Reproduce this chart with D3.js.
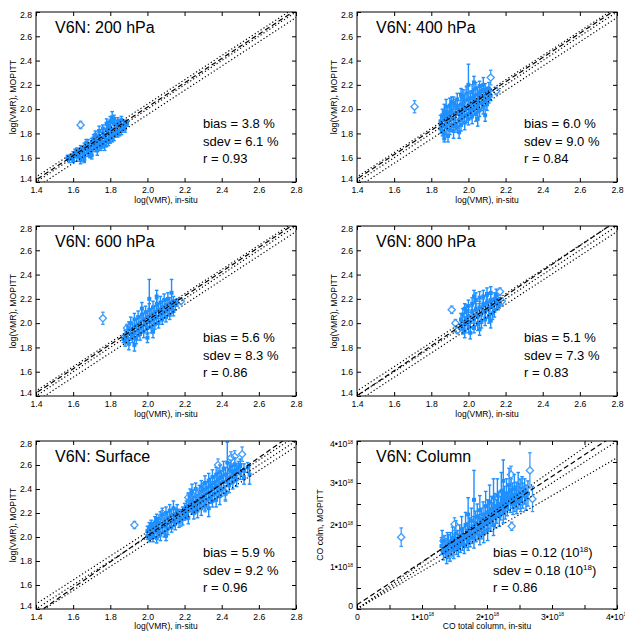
<!DOCTYPE html>
<html><head><meta charset="utf-8">
<script src="https://cdn.jsdelivr.net/npm/d3@7"></script>
<style>body{margin:0;background:#fff} text{font-family:"Liberation Sans",Arial,Helvetica,sans-serif}</style>
</head><body><svg id="c" width="625" height="632"></svg>
<script>
// ---------- data ----------
const titles = ["V6N: 200 hPa","V6N: 400 hPa","V6N: 600 hPa","V6N: 800 hPa","V6N: Surface","V6N: Column"];
const biasVals = ["3.8","6.0","5.6","5.1","5.9","0.12"];
const sdevVals = ["6.1","9.0","8.3","7.3","9.2","0.18"];
const rVals = ["0.93","0.84","0.86","0.83","0.96","0.86"];
const logTicks = [1.4,1.6,1.8,2.0,2.2,2.4,2.6,2.8];
const colTicks = [0,0.5,1,1.5,2,2.5,3,3.5,4];
const colLabelTicks = [0,1,2,3,4];
const fitSlope = [1.0,1.0,1.0,1.03,1.085,1.02];
const fitIntercept = [0.017,0.025,0.024,-0.04,-0.16,0.10];
const refRatio = [1.0,1.1,0.9];

// [in-situ, MOPITT, error]
const pts200 = [[1.57,1.60,0.02],[1.58,1.59,0.03],[1.59,1.61,0.02],[1.60,1.62,0.03],[1.60,1.58,0.02],[1.61,1.64,0.03],[1.62,1.61,0.04],[1.62,1.66,0.02],[1.63,1.63,0.03],[1.64,1.60,0.03],[1.64,1.67,0.03],[1.65,1.65,0.04],[1.66,1.62,0.05],[1.66,1.69,0.03],[1.67,1.67,0.03],[1.68,1.64,0.03],[1.68,1.71,0.04],[1.69,1.69,0.03],[1.70,1.66,0.04],[1.70,1.73,0.03],[1.71,1.70,0.03],[1.72,1.68,0.03],[1.72,1.75,0.04],[1.73,1.72,0.03],[1.74,1.70,0.04],[1.74,1.78,0.05],[1.75,1.74,0.03],[1.76,1.72,0.04],[1.76,1.80,0.04],[1.77,1.77,0.03],[1.78,1.74,0.05],[1.78,1.83,0.04],[1.79,1.79,0.04],[1.80,1.76,0.04],[1.80,1.85,0.04],[1.81,1.81,0.03],[1.82,1.78,0.04],[1.82,1.88,0.05],[1.83,1.84,0.04],[1.83,1.80,0.03],[1.84,1.86,0.04],[1.84,1.90,0.03],[1.85,1.82,0.04],[1.85,1.88,0.03],[1.86,1.85,0.03],[1.86,1.91,0.03],[1.87,1.87,0.03],[1.88,1.89,0.02],[1.88,1.84,0.03],[1.89,1.88,0.02],[1.81,1.93,0.05],[1.79,1.86,0.04],[1.77,1.70,0.04],[1.75,1.69,0.03],[1.73,1.66,0.04],[1.69,1.63,0.03],[1.67,1.72,0.03],[1.64,1.58,0.03],[1.71,1.76,0.03],[1.74,1.82,0.04],[1.76,1.84,0.03],[1.78,1.88,0.04],[1.80,1.90,0.04],[1.82,1.92,0.03],[1.79,1.73,0.03],[1.81,1.76,0.03],[1.84,1.80,0.03],[1.86,1.82,0.03],[1.72,1.79,0.03],[1.70,1.62,0.03],[1.66,1.59,0.03]];
const dia200 = [[1.64,1.87,0.03]];

const pts400 = [[1.85,1.84,0.04],[1.85,1.90,0.05],[1.86,1.87,0.06],[1.86,1.95,0.05],[1.87,1.80,0.05],[1.87,1.91,0.05],[1.87,1.98,0.06],[1.88,1.85,0.06],[1.88,1.94,0.05],[1.88,2.02,0.06],[1.89,1.78,0.05],[1.89,1.89,0.06],[1.89,1.97,0.05],[1.90,1.83,0.04],[1.90,1.93,0.05],[1.90,2.03,0.06],[1.91,1.87,0.05],[1.91,1.99,0.06],[1.92,1.82,0.06],[1.92,1.92,0.05],[1.92,2.05,0.05],[1.93,1.88,0.05],[1.93,1.97,0.06],[1.94,1.85,0.04],[1.94,2.01,0.06],[1.94,2.08,0.05],[1.95,1.91,0.05],[1.95,1.98,0.06],[1.96,1.87,0.05],[1.96,2.04,0.06],[1.97,1.93,0.05],[1.97,2.10,0.06],[1.98,1.89,0.06],[1.98,2.00,0.05],[1.98,2.07,0.05],[1.99,1.95,0.06],[1.99,2.13,0.06],[2.00,1.92,0.05],[2.00,2.03,0.06],[2.00,2.20,0.17],[2.01,1.97,0.05],[2.01,2.09,0.06],[2.02,1.94,0.06],[2.02,2.05,0.05],[2.02,2.14,0.06],[2.03,2.00,0.05],[2.03,2.11,0.05],[2.04,1.96,0.06],[2.04,2.07,0.05],[2.04,2.17,0.05],[2.05,2.02,0.05],[2.05,2.12,0.06],[2.06,1.99,0.05],[2.06,2.09,0.05],[2.07,2.05,0.06],[2.07,2.15,0.05],[2.08,2.02,0.06],[2.08,2.11,0.06],[2.09,2.07,0.05],[2.09,1.95,0.05],[2.10,2.13,0.05],[2.10,2.04,0.05],[2.11,2.09,0.04],[2.11,2.17,0.05],[2.12,2.11,0.04],[2.08,2.20,0.06],[2.06,2.19,0.04],[2.03,2.22,0.05],[1.96,2.12,0.05],[1.91,2.06,0.04],[2.05,1.92,0.06],[1.95,1.81,0.05],[1.87,1.76,0.03],[1.86,1.82,0.04],[1.88,1.90,0.04],[1.90,1.97,0.05],[1.93,2.03,0.05],[1.97,2.02,0.05],[2.00,2.08,0.05],[2.03,2.05,0.05],[2.06,2.13,0.05],[2.09,2.16,0.05],[1.92,1.86,0.05],[1.96,1.95,0.05],[2.01,2.00,0.05],[2.05,2.07,0.05]];
const dia400 = [[1.71,2.02,0.05],[2.12,2.26,0.06],[2.15,2.15,0.03],[1.99,2.14,0.04]];

const pts600 = [[1.87,1.87,0.03],[1.88,1.90,0.04],[1.88,1.85,0.04],[1.89,1.93,0.05],[1.89,1.88,0.05],[1.90,1.83,0.05],[1.90,1.96,0.05],[1.91,1.91,0.05],[1.91,2.00,0.05],[1.92,1.88,0.04],[1.92,1.95,0.05],[1.93,2.03,0.05],[1.93,1.92,0.05],[1.94,1.98,0.05],[1.94,1.87,0.04],[1.95,2.05,0.05],[1.95,1.94,0.05],[1.96,2.00,0.05],[1.96,1.91,0.05],[1.97,2.07,0.05],[1.97,1.97,0.05],[1.98,2.03,0.05],[1.98,1.93,0.05],[1.99,2.09,0.05],[1.99,1.99,0.05],[2.00,2.05,0.05],[2.00,1.96,0.05],[2.01,2.11,0.05],[2.01,2.20,0.16],[2.01,2.01,0.05],[2.02,2.07,0.05],[2.02,1.97,0.05],[2.03,2.13,0.05],[2.03,2.03,0.05],[2.04,2.09,0.05],[2.04,1.99,0.04],[2.05,2.15,0.05],[2.05,2.05,0.05],[2.06,2.11,0.05],[2.06,2.00,0.04],[2.07,2.17,0.05],[2.07,2.07,0.05],[2.08,2.13,0.05],[2.08,2.03,0.04],[2.09,2.19,0.05],[2.09,2.09,0.05],[2.10,2.15,0.05],[2.10,2.05,0.04],[2.11,2.20,0.05],[2.11,2.11,0.05],[2.12,2.16,0.05],[2.12,2.07,0.04],[2.13,2.25,0.11],[2.13,2.13,0.05],[2.14,2.18,0.04],[2.14,2.10,0.04],[2.15,2.15,0.04],[2.16,2.17,0.03],[2.00,1.88,0.04],[1.97,2.12,0.05],[2.05,2.22,0.05],[1.93,1.82,0.05],[2.03,1.93,0.05]];
const dia600 = [[1.76,2.04,0.05],[2.18,2.18,0.02],[1.89,1.96,0.03]];

const pts800 = [[1.96,1.98,0.04],[1.96,2.03,0.05],[1.97,1.95,0.04],[1.97,2.07,0.05],[1.98,2.00,0.05],[1.98,1.93,0.05],[1.99,2.04,0.05],[1.99,2.10,0.05],[2.00,1.97,0.05],[2.00,2.06,0.05],[2.00,2.14,0.05],[2.01,2.01,0.05],[2.01,1.92,0.05],[2.02,2.09,0.05],[2.02,2.16,0.05],[2.03,2.03,0.05],[2.03,1.96,0.04],[2.04,2.11,0.05],[2.04,2.19,0.06],[2.05,2.06,0.05],[2.05,1.99,0.05],[2.06,2.13,0.05],[2.06,2.21,0.05],[2.07,2.08,0.05],[2.07,2.01,0.05],[2.08,2.15,0.05],[2.08,2.22,0.05],[2.09,2.10,0.05],[2.09,2.03,0.05],[2.10,2.17,0.05],[2.10,2.24,0.05],[2.11,2.12,0.05],[2.11,2.05,0.05],[2.12,2.19,0.05],[2.12,2.25,0.05],[2.13,2.14,0.05],[2.13,2.08,0.05],[2.14,2.20,0.05],[2.14,2.10,0.05],[2.15,2.16,0.04],[2.15,2.23,0.05],[2.16,2.14,0.03],[2.16,2.19,0.04],[2.17,2.17,0.03],[2.12,2.02,0.06],[2.06,1.95,0.05],[1.98,2.12,0.04],[2.03,2.22,0.05]];
const dia800 = [[1.91,2.11,0.03],[1.93,2.00,0.03],[1.94,1.94,0.02],[2.17,2.26,0.03],[2.18,2.18,0.03]];

const ptsSurf = [[2.00,2.01,0.03],[2.00,2.05,0.04],[2.01,1.99,0.03],[2.01,2.08,0.04],[2.02,2.03,0.05],[2.02,2.10,0.04],[2.03,2.00,0.04],[2.03,2.07,0.05],[2.04,2.12,0.05],[2.04,2.04,0.05],[2.05,1.99,0.04],[2.05,2.09,0.05],[2.05,2.15,0.04],[2.06,2.05,0.05],[2.06,2.12,0.04],[2.07,2.02,0.05],[2.07,2.16,0.05],[2.08,2.09,0.05],[2.08,2.19,0.05],[2.09,2.04,0.04],[2.09,2.13,0.05],[2.10,2.10,0.05],[2.10,2.20,0.05],[2.10,2.01,0.04],[2.11,2.16,0.05],[2.11,2.07,0.05],[2.12,2.12,0.05],[2.12,2.22,0.05],[2.13,2.08,0.04],[2.13,2.18,0.05],[2.14,2.14,0.05],[2.14,2.24,0.06],[2.15,2.11,0.05],[2.15,2.19,0.05],[2.16,2.16,0.04],[2.16,2.22,0.05],[2.17,2.13,0.05],[2.18,2.19,0.04],[2.18,2.16,0.04],[2.19,2.21,0.04],[2.19,2.15,0.05],[2.20,2.23,0.05],[2.20,2.18,0.04],[2.21,2.25,0.05],[2.21,2.20,0.05],[2.22,2.30,0.06],[2.22,2.22,0.05],[2.22,2.16,0.05],[2.23,2.35,0.05],[2.23,2.27,0.06],[2.24,2.24,0.05],[2.24,2.38,0.06],[2.24,2.31,0.05],[2.25,2.28,0.06],[2.25,2.20,0.05],[2.26,2.34,0.06],[2.26,2.40,0.05],[2.26,2.25,0.05],[2.27,2.30,0.05],[2.27,2.22,0.06],[2.28,2.37,0.06],[2.28,2.28,0.05],[2.29,2.42,0.05],[2.29,2.33,0.06],[2.29,2.24,0.06],[2.30,2.39,0.06],[2.30,2.30,0.05],[2.31,2.45,0.06],[2.31,2.35,0.05],[2.31,2.27,0.05],[2.32,2.41,0.05],[2.32,2.31,0.06],[2.33,2.47,0.06],[2.33,2.37,0.05],[2.33,2.24,0.07],[2.34,2.43,0.06],[2.34,2.33,0.05],[2.35,2.50,0.06],[2.35,2.40,0.06],[2.35,2.30,0.05],[2.36,2.45,0.05],[2.36,2.36,0.06],[2.37,2.52,0.06],[2.37,2.42,0.05],[2.37,2.31,0.06],[2.38,2.48,0.06],[2.38,2.38,0.05],[2.39,2.54,0.06],[2.39,2.44,0.06],[2.39,2.34,0.07],[2.40,2.50,0.05],[2.40,2.40,0.06],[2.41,2.57,0.06],[2.41,2.46,0.06],[2.42,2.52,0.06],[2.42,2.36,0.06],[2.43,2.62,0.17],[2.43,2.48,0.05],[2.44,2.56,0.06],[2.44,2.43,0.06],[2.45,2.59,0.05],[2.45,2.50,0.06],[2.46,2.54,0.05],[2.46,2.46,0.06],[2.47,2.60,0.06],[2.47,2.51,0.05],[2.48,2.56,0.05],[2.48,2.48,0.06],[2.49,2.58,0.05],[2.50,2.53,0.05],[2.50,2.60,0.05],[2.52,2.56,0.05],[2.52,2.49,0.05],[2.54,2.58,0.04],[2.55,2.52,0.08]];
const diaSurf = [[1.93,2.10,0.03],[2.51,2.69,0.06],[2.47,2.67,0.05],[2.45,2.66,0.05],[2.42,2.37,0.06],[2.31,2.26,0.05],[2.22,2.33,0.04],[2.18,2.15,0.06],[2.08,2.18,0.04],[2.06,2.04,0.03],[2.38,2.60,0.05],[2.27,2.36,0.04]];

// column values in units of 1e18
const ptsCol = [[1.30,1.50,0.20],[1.31,1.62,0.25],[1.33,1.35,0.18],[1.35,1.55,0.20],[1.36,1.45,0.22],[1.38,1.30,0.22],[1.39,1.62,0.20],[1.40,1.40,0.20],[1.41,1.52,0.25],[1.43,1.36,0.22],[1.44,1.60,0.22],[1.46,1.48,0.20],[1.47,1.70,0.25],[1.49,1.42,0.22],[1.50,1.58,0.20],[1.52,1.80,0.30],[1.53,1.50,0.20],[1.55,1.65,0.22],[1.56,1.45,0.20],[1.58,1.75,0.25],[1.59,1.55,0.20],[1.61,1.90,0.30],[1.62,1.62,0.22],[1.64,1.72,0.22],[1.65,1.52,0.20],[1.67,2.00,0.30],[1.68,1.68,0.22],[1.70,1.80,0.25],[1.71,1.60,0.20],[1.71,2.25,0.40],[1.73,1.92,0.25],[1.74,1.70,0.22],[1.76,2.10,0.30],[1.77,1.78,0.22],[1.79,1.95,0.25],[1.80,2.60,0.70],[1.80,1.70,0.25],[1.82,2.05,0.28],[1.83,1.82,0.22],[1.85,2.20,0.30],[1.86,1.90,0.25],[1.88,2.00,0.25],[1.89,2.35,0.35],[1.89,1.75,0.22],[1.91,2.12,0.28],[1.92,1.92,0.25],[1.94,2.25,0.30],[1.95,2.02,0.25],[1.95,1.80,0.22],[1.97,2.15,0.28],[1.98,2.45,0.35],[2.00,2.05,0.25],[2.01,2.30,0.30],[2.01,1.88,0.25],[2.03,2.20,0.28],[2.04,2.55,0.40],[2.06,2.10,0.25],[2.07,2.38,0.30],[2.09,2.25,0.28],[2.10,2.00,0.25],[2.10,2.65,0.45],[2.12,2.45,0.30],[2.13,2.18,0.25],[2.15,2.32,0.28],[2.16,2.70,0.40],[2.18,2.50,0.30],[2.19,2.22,0.25],[2.21,2.40,0.28],[2.22,2.80,0.45],[2.24,2.55,0.30],[2.25,2.30,0.25],[2.25,3.05,0.50],[2.27,2.62,0.30],[2.28,2.42,0.28],[2.30,2.75,0.35],[2.31,2.50,0.28],[2.33,2.65,0.30],[2.34,2.95,0.40],[2.36,2.58,0.28],[2.37,2.80,0.30],[2.39,2.70,0.30],[2.40,2.50,0.25],[2.42,2.85,0.35],[2.43,2.62,0.30],[2.45,2.72,0.30],[2.46,2.55,0.28],[2.48,2.90,0.35],[2.49,2.68,0.30],[2.51,2.78,0.30],[2.52,2.60,0.28],[2.54,2.85,0.30],[2.55,2.70,0.30],[2.58,2.80,0.30],[2.60,2.65,0.30],[2.63,2.75,0.30]];
const diaCol = [[0.68,1.71,0.22],[1.33,1.62,0.12],[1.50,2.02,0.15],[2.37,3.20,0.20],[2.66,3.30,0.42],[2.70,2.62,0.30],[2.38,1.97,0.10],[2.52,2.90,0.20],[1.43,1.28,0.15]];

const allPts = [pts200,pts400,pts600,pts800,ptsSurf,ptsCol];
const allDia = [dia200,dia400,dia600,dia800,diaSurf,diaCol];

// ---------- layout ----------
const colX = [36, 357], rowY = [12, 226, 441], rowH = [170, 170, 168], W = 260;
const BLUE = "#1e8fff", DIA = "#3d9cff";
const svg = d3.select("#c");

for (let i = 0; i < 6; i++) {
  const c = i % 2, r = Math.floor(i / 2);
  const x0 = colX[c], y0 = rowY[r], H = rowH[r];
  const isCol = i === 5;
  const dom = isCol ? [0, 4] : [1.4, 2.8];
  const x = d3.scaleLinear().domain(dom).range([x0, x0 + W]);
  const y = d3.scaleLinear().domain(dom).range([y0 + H, y0]);
  const g = svg.append("g");
  const clipId = "clip" + i;
  svg.append("clipPath").attr("id", clipId).append("rect")
    .attr("x", x0).attr("y", y0).attr("width", W).attr("height", H);
  const pg = g.append("g").attr("clip-path", `url(#${clipId})`);

  // error bars + points
  const pts = allPts[i];
  const eb = pg.append("g").attr("stroke", BLUE).attr("stroke-width", 1.4);
  pts.forEach(p => {
    const px = x(p[0]), yl = y(p[1] - p[2]), yh = y(p[1] + p[2]);
    eb.append("line").attr("x1", px).attr("x2", px).attr("y1", yl).attr("y2", yh);
    eb.append("line").attr("x1", px - 1.8).attr("x2", px + 1.8).attr("y1", yl).attr("y2", yl);
    eb.append("line").attr("x1", px - 1.8).attr("x2", px + 1.8).attr("y1", yh).attr("y2", yh);
  });
  pg.append("g").selectAll("rect").data(pts).join("rect")
    .attr("x", d => x(d[0]) - 2).attr("y", d => y(d[1]) - 2)
    .attr("width", 4).attr("height", 4).attr("fill", BLUE);
  // diamonds
  const dg = pg.append("g").attr("stroke-width", 1.3);
  allDia[i].forEach(p => {
    const px = x(p[0]), py = y(p[1]), yl = y(p[1] - p[2]), yh = y(p[1] + p[2]);
    dg.append("line").attr("x1", px).attr("x2", px).attr("y1", yl).attr("y2", py + 3.5).attr("stroke", DIA);
    dg.append("line").attr("x1", px).attr("x2", px).attr("y1", py - 3.5).attr("y2", yh).attr("stroke", DIA);
    [yl, yh].forEach(yy => dg.append("line").attr("x1", px - 1.8).attr("x2", px + 1.8).attr("y1", yy).attr("y2", yy).attr("stroke", DIA));
    dg.append("path").attr("d", `M${px},${py - 3.6}L${px + 3.6},${py}L${px},${py + 3.6}L${px - 3.6},${py}Z`)
      .attr("fill", "none").attr("stroke", DIA).attr("stroke-width", 1.3);
  });

  // reference lines (1:1, +10%, -10%)
  const lg = pg.append("g").attr("fill", "none");
  const lineGen = d3.line().x(d => x(d[0])).y(d => y(d[1]));
  refRatio.forEach(k => {
    const xs = isCol ? [0, 4.5] : [1.3, 2.9];
    const seg = xs.map(v => [v, isCol ? k * v : v + Math.log10(k)]);
    lg.append("path").attr("d", lineGen(seg)).attr("stroke", "#000").attr("stroke-width", 1.2)
      .attr("stroke-dasharray", "1.2,2.3");
  });
  // fit line
  const fx = isCol ? [0, 4.5] : [1.3, 2.9];
  lg.append("path").attr("d", lineGen(fx.map(v => [v, fitSlope[i] * v + fitIntercept[i]])))
    .attr("stroke", "#000").attr("stroke-width", 1.2).attr("stroke-dasharray", "5,3");

  // frame
  g.append("rect").attr("x", x0).attr("y", y0).attr("width", W).attr("height", H)
    .attr("fill", "none").attr("stroke", "#000").attr("stroke-width", 1);

  // axes
  const tv = isCol ? colTicks : logTicks;
  const fmtLog = d3.format(".1f");
  const ax = g.append("g").attr("transform", `translate(0,${y0 + H})`)
    .call(d3.axisBottom(x).tickValues(tv).tickSize(-4).tickPadding(4.5)
      .tickFormat(d => isCol ? (colLabelTicks.includes(d) ? String(d) : "") : fmtLog(d)));
  const ay = g.append("g").attr("transform", `translate(${x0},0)`)
    .call(d3.axisLeft(y).tickValues(tv).tickSize(-4).tickPadding(4)
      .tickFormat(d => isCol ? (colLabelTicks.includes(d) ? String(d) : "") : fmtLog(d)));
  g.append("g").attr("transform", `translate(0,${y0})`)
    .call(d3.axisTop(x).tickValues(tv).tickSize(-4).tickFormat(""));
  g.append("g").attr("transform", `translate(${x0 + W},0)`)
    .call(d3.axisRight(y).tickValues(tv).tickSize(-4).tickFormat(""));
  g.selectAll(".domain").remove();
  g.selectAll(".tick line").attr("stroke", "#000");
  g.selectAll(".tick text").attr("font-size", 8.7).attr("fill", "#000")
    .attr("font-family", '"Liberation Sans",Arial,sans-serif');
  // clamp y end labels inside frame
  ay.selectAll(".tick").each(function(d) {
    const t = d3.select(this).select("text");
    const py = y(d);
    let shift = 0;
    if (py - y0 < 3) shift = 3 - (py - y0);
    if ((y0 + H) - py < 3) shift = -(3 - ((y0 + H) - py));
    t.attr("y", shift);
  });
  if (isCol) {
    [ax, ay].forEach(a => a.selectAll(".tick text").each(function(d) {
      if (d > 0 && colLabelTicks.includes(d)) {
        const t = d3.select(this).text(null);
        t.append("tspan").text(d + "\u202210");
        t.append("tspan").attr("font-size", 5).attr("dy", "-3.5").text("18");
      }
    }));
  }

  // axis titles
  g.append("text").attr("x", x0 + W / 2).attr("y", y0 + H + (r === 2 ? 20 : 20.5)).attr("text-anchor", "middle")
    .attr("font-size", 8.5).text(isCol ? "CO total column, in-situ" : "log(VMR), in-situ");
  const ytx = isCol ? x0 - 37 : x0 - 23;
  g.append("text").attr("transform", `translate(${ytx},${y0 + H / 2}) rotate(-90)`)
    .attr("text-anchor", "middle").attr("dy", "0.35em").attr("font-size", 8.7)
    .text(isCol ? "CO colm, MOPITT" : "log(VMR), MOPITT");

  // panel title
  g.append("text").attr("x", x0 + 19).attr("y", y0 + 21).attr("font-size", 16).text(titles[i]);

  // stats
  const sx = isCol ? x0 + 136 : x0 + 167;
  const st = g.append("g").attr("font-size", 13);
  if (isCol) {
    [["bias = ", biasVals[i]], ["sdev = ", sdevVals[i]]].forEach((a, k) => {
      const t = st.append("text").attr("x", sx).attr("y", y0 + 116 + k * 17.5);
      t.append("tspan").text(a[0] + a[1] + " (10");
      t.append("tspan").attr("font-size", 8).attr("dy", -5).text("18");
      t.append("tspan").attr("dy", 5).text(")");
    });
  } else {
    st.append("text").attr("x", sx).attr("y", y0 + 116).text("bias = " + biasVals[i] + " %");
    st.append("text").attr("x", sx).attr("y", y0 + 133.5).text("sdev = " + sdevVals[i] + " %");
  }
  st.append("text").attr("x", sx).attr("y", y0 + 151).text("r = " + rVals[i]);
}
</script></body></html>
